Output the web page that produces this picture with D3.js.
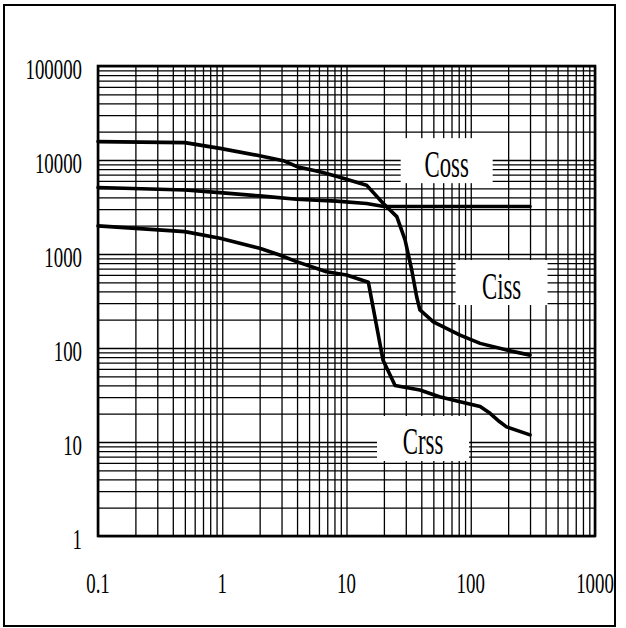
<!DOCTYPE html>
<html>
<head>
<meta charset="utf-8">
<script src="https://cdn.jsdelivr.net/npm/d3@7"></script>
<style>
  html, body { margin: 0; padding: 0; background: #fff; }
  svg { display: block; }
  text { font-family: "Liberation Serif", "DejaVu Serif", serif; fill: #000; }
</style>
</head>
<body>
<svg id="chart" width="626" height="628"></svg>
<script>
// ---- data ----
const xTickValues = [0.1, 1, 10, 100, 1000];
const xTickLabels = ["0.1", "1", "10", "100", "1000"];
const yTickValues = [1, 10, 100, 1000, 10000, 100000];
const yTickLabels = ["1", "10", "100", "1000", "10000", "100000"];

// curve ending near 85 (labelled Ciss)
const cissX = [0.1, 0.5, 0.96, 2.0, 3.1, 4.0, 6.1, 8.3, 14.5, 19.7, 25.4, 29.6, 33.5, 36.7, 39, 50, 82, 119, 195, 300];
const cissY = [15700, 15300, 13300, 11100, 9840, 8490, 7500, 6700, 5400, 3460, 2500, 1410, 676, 351, 254, 190, 137, 112, 95, 84];

// flat curve near 3200 (labelled Coss)
const cossX = [0.1, 0.5, 0.96, 2.0, 3.96, 8.3, 14.5, 20, 30, 300];
const cossY = [5100, 4800, 4500, 4150, 3820, 3650, 3450, 3200, 3200, 3200];

// lowest curve (labelled Crss)
const crssX = [0.1, 0.5, 0.96, 2.0, 2.9, 3.96, 6.9, 10, 15, 19.7, 24.6, 39, 56, 82, 119, 143, 170, 194, 300];
const crssY = [1990, 1730, 1470, 1150, 976, 829, 648, 598, 500, 74, 40, 35.7, 30.3, 26.8, 23.8, 20.2, 16.5, 14.5, 11.9];

// label boxes (centre in data units)
const labelNames = ["Coss", "Ciss", "Crss"];
const labelX = [64, 177, 41.3];
const labelY = [9840, 497, 10.9];

// ---- drawing ----
const svg = d3.select("#chart");
const L = 98, R = 595, T = 66, B = 536;

const x = d3.scaleLog().domain([0.1, 1000]).range([L, R]);
const y = d3.scaleLog().domain([1, 100000]).range([B, T]);

// outer frame
svg.append("rect")
  .attr("x", 4).attr("y", 5).attr("width", 611).attr("height", 621)
  .attr("fill", "none").attr("stroke", "#000").attr("stroke-width", 2);

// minor values 1..9 per decade
function minorValues(lo, hi) {
  const out = [];
  for (let e = Math.log10(lo); e < Math.log10(hi); e++) {
    for (let k = 1; k <= 9; k++) out.push(k * Math.pow(10, e));
  }
  out.push(hi);
  return out;
}

// grid via axes
const gx = svg.append("g").attr("transform", `translate(0,${B})`)
  .call(d3.axisBottom(x).tickValues(minorValues(0.1, 1000)).tickSize(-(B - T)).tickFormat(""));
const gy = svg.append("g").attr("transform", `translate(${L},0)`)
  .call(d3.axisLeft(y).tickValues(minorValues(1, 100000)).tickSize(-(R - L)).tickFormat(""));
[gx, gy].forEach(g => {
  g.select(".domain").remove();
  g.selectAll(".tick line").attr("stroke", "#000").attr("stroke-width", 1.3);
});

// plot border
svg.append("rect")
  .attr("x", L).attr("y", T).attr("width", R - L).attr("height", B - T)
  .attr("fill", "none").attr("stroke", "#000").attr("stroke-width", 2.6);

// curves
const line = d3.line().x(d => x(d[0])).y(d => y(d[1]));
[[cissX, cissY], [cossX, cossY], [crssX, crssY]].forEach(([xs, ys]) => {
  svg.append("path")
    .datum(xs.map((v, i) => [v, ys[i]]))
    .attr("d", line)
    .attr("fill", "none")
    .attr("stroke", "#000")
    .attr("stroke-width", 3.6)
    .attr("stroke-linejoin", "round")
    .attr("stroke-linecap", "round");
});

// label boxes
const boxW = 92, boxH = 45;
labelNames.forEach((name, i) => {
  const cx = x(labelX[i]), cy = y(labelY[i]);
  svg.append("rect")
    .attr("x", cx - boxW / 2).attr("y", cy - boxH / 2)
    .attr("width", boxW).attr("height", boxH)
    .attr("fill", "#fff");
  svg.append("text")
    .attr("transform", `translate(${cx},${cy + 16}) scale(0.6,1)`)
    .attr("text-anchor", "middle")
    .attr("font-size", 38)
    .text(name);
});

// tick labels
xTickValues.forEach((v, i) => {
  svg.append("text")
    .attr("transform", `translate(${x(v)},593) scale(0.65,1)`)
    .attr("text-anchor", "middle")
    .attr("font-size", 29)
    .text(xTickLabels[i]);
});
yTickValues.forEach((v, i) => {
  svg.append("text")
    .attr("transform", `translate(82,${y(v) + 12.5}) scale(0.65,1)`)
    .attr("text-anchor", "end")
    .attr("font-size", 29)
    .text(yTickLabels[i]);
});
</script>
</body>
</html>
